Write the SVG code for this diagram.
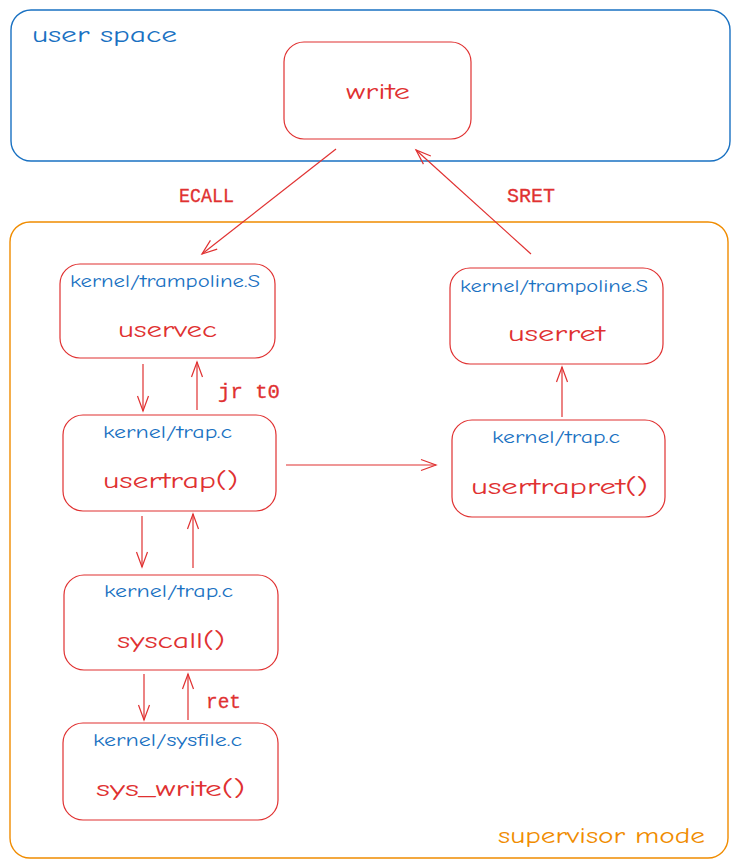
<svg xmlns="http://www.w3.org/2000/svg" width="737" height="867" viewBox="0 0 737 867">
<style>
.bg{fill:#ffffff}
.container-user{fill:none;stroke:#1971c2;stroke-width:1.4}
.container-sup{fill:none;stroke:#f08c00;stroke-width:1.4}
.node{fill:none;stroke:#e03131;stroke-width:1.2}
.edge{fill:none;stroke:#e03131;stroke-width:1.2}
.hand{font-family:"Comic Neue","DejaVu Sans","Liberation Sans",sans-serif}
.file{font-size:17px;fill:#1971c2}
.fn{font-size:23px;fill:#e03131}
.mono{font-family:"Liberation Mono","DejaVu Sans Mono",monospace;font-size:20px;fill:#e03131;stroke:#e03131;stroke-width:0.3}
.title-blue{font-size:22px;fill:#1971c2}
.title-orange{font-size:22px;fill:#f08c00}
</style>
<defs>
<marker id="arrow" markerWidth="20" markerHeight="14" refX="0" refY="0" viewBox="-17 -7 20 14" orient="auto" markerUnits="userSpaceOnUse">
<path d="M -15 -5.5 L 0 0 L -15 5.5" fill="none" stroke="#e03131" stroke-width="1.2"/>
</marker>
</defs>
<rect class="bg" x="0" y="0" width="737" height="867"/>

<g id="user-space">
<rect class="container-user" x="11" y="10" width="719" height="151" rx="20"/>
<text class="hand title-blue" x="32" y="42" textLength="145" lengthAdjust="spacingAndGlyphs">user space</text>
</g>

<g id="supervisor-mode">
<rect class="container-sup" x="10" y="222" width="718" height="636" rx="20"/>
<text class="hand title-orange" x="498" y="843" textLength="207" lengthAdjust="spacingAndGlyphs">supervisor mode</text>
</g>

<g id="write">
<rect class="node" x="284" y="42" width="187" height="97" rx="20"/>
<text class="hand fn" x="346" y="99" textLength="64" lengthAdjust="spacingAndGlyphs">write</text>
</g>

<g id="uservec">
<rect class="node" x="60" y="264" width="215" height="94" rx="20"/>
<text class="hand file" x="70" y="287" textLength="190" lengthAdjust="spacingAndGlyphs">kernel/trampoline.S</text>
<text class="hand fn" x="118" y="337" textLength="99" lengthAdjust="spacingAndGlyphs">uservec</text>
</g>

<g id="userret">
<rect class="node" x="450" y="268" width="213" height="96" rx="20"/>
<text class="hand file" x="460" y="292" textLength="188" lengthAdjust="spacingAndGlyphs">kernel/trampoline.S</text>
<text class="hand fn" x="508" y="341" textLength="97" lengthAdjust="spacingAndGlyphs">userret</text>
</g>

<g id="usertrap">
<rect class="node" x="63" y="415" width="213" height="96" rx="20"/>
<text class="hand file" x="103" y="438" textLength="129" lengthAdjust="spacingAndGlyphs">kernel/trap.c</text>
<text class="hand fn" x="103" y="488" textLength="135" lengthAdjust="spacingAndGlyphs">usertrap()</text>
</g>

<g id="usertrapret">
<rect class="node" x="452" y="420" width="213" height="97" rx="20"/>
<text class="hand file" x="492" y="443" textLength="128" lengthAdjust="spacingAndGlyphs">kernel/trap.c</text>
<text class="hand fn" x="471" y="494" textLength="177" lengthAdjust="spacingAndGlyphs">usertrapret()</text>
</g>

<g id="syscall">
<rect class="node" x="64" y="575" width="214" height="95" rx="20"/>
<text class="hand file" x="104" y="597" textLength="129" lengthAdjust="spacingAndGlyphs">kernel/trap.c</text>
<text class="hand fn" x="117" y="648" textLength="108" lengthAdjust="spacingAndGlyphs">syscall()</text>
</g>

<g id="sys_write">
<rect class="node" x="63" y="723" width="215" height="97" rx="20"/>
<text class="hand file" x="93" y="746" textLength="149" lengthAdjust="spacingAndGlyphs">kernel/sysfile.c</text>
<text class="hand fn" x="96" y="796" textLength="149" lengthAdjust="spacingAndGlyphs">sys_write()</text>
</g>

<g id="connectors">
<line class="edge" x1="336" y1="149" x2="202" y2="254" marker-end="url(#arrow)"/>
<line class="edge" x1="531" y1="254" x2="416" y2="150" marker-end="url(#arrow)"/>
<line class="edge" x1="143" y1="364" x2="143" y2="411" marker-end="url(#arrow)"/>
<line class="edge" x1="197" y1="410" x2="197" y2="362" marker-end="url(#arrow)"/>
<line class="edge" x1="286" y1="465" x2="436" y2="465" marker-end="url(#arrow)"/>
<line class="edge" x1="562" y1="417" x2="562" y2="367" marker-end="url(#arrow)"/>
<line class="edge" x1="142" y1="516" x2="142" y2="567" marker-end="url(#arrow)"/>
<line class="edge" x1="193" y1="568" x2="193" y2="514" marker-end="url(#arrow)"/>
<line class="edge" x1="144" y1="674" x2="144" y2="720" marker-end="url(#arrow)"/>
<line class="edge" x1="188" y1="720" x2="188" y2="674" marker-end="url(#arrow)"/>
<text class="mono" x="179" y="202" textLength="55" lengthAdjust="spacingAndGlyphs">ECALL</text>
<text class="mono" x="507" y="202" textLength="48" lengthAdjust="spacingAndGlyphs">SRET</text>
<text class="mono" x="218" y="398" textLength="62" lengthAdjust="spacingAndGlyphs">jr t0</text>
<text class="mono" x="206" y="708" textLength="35" lengthAdjust="spacingAndGlyphs">ret</text>
</g>
</svg>
